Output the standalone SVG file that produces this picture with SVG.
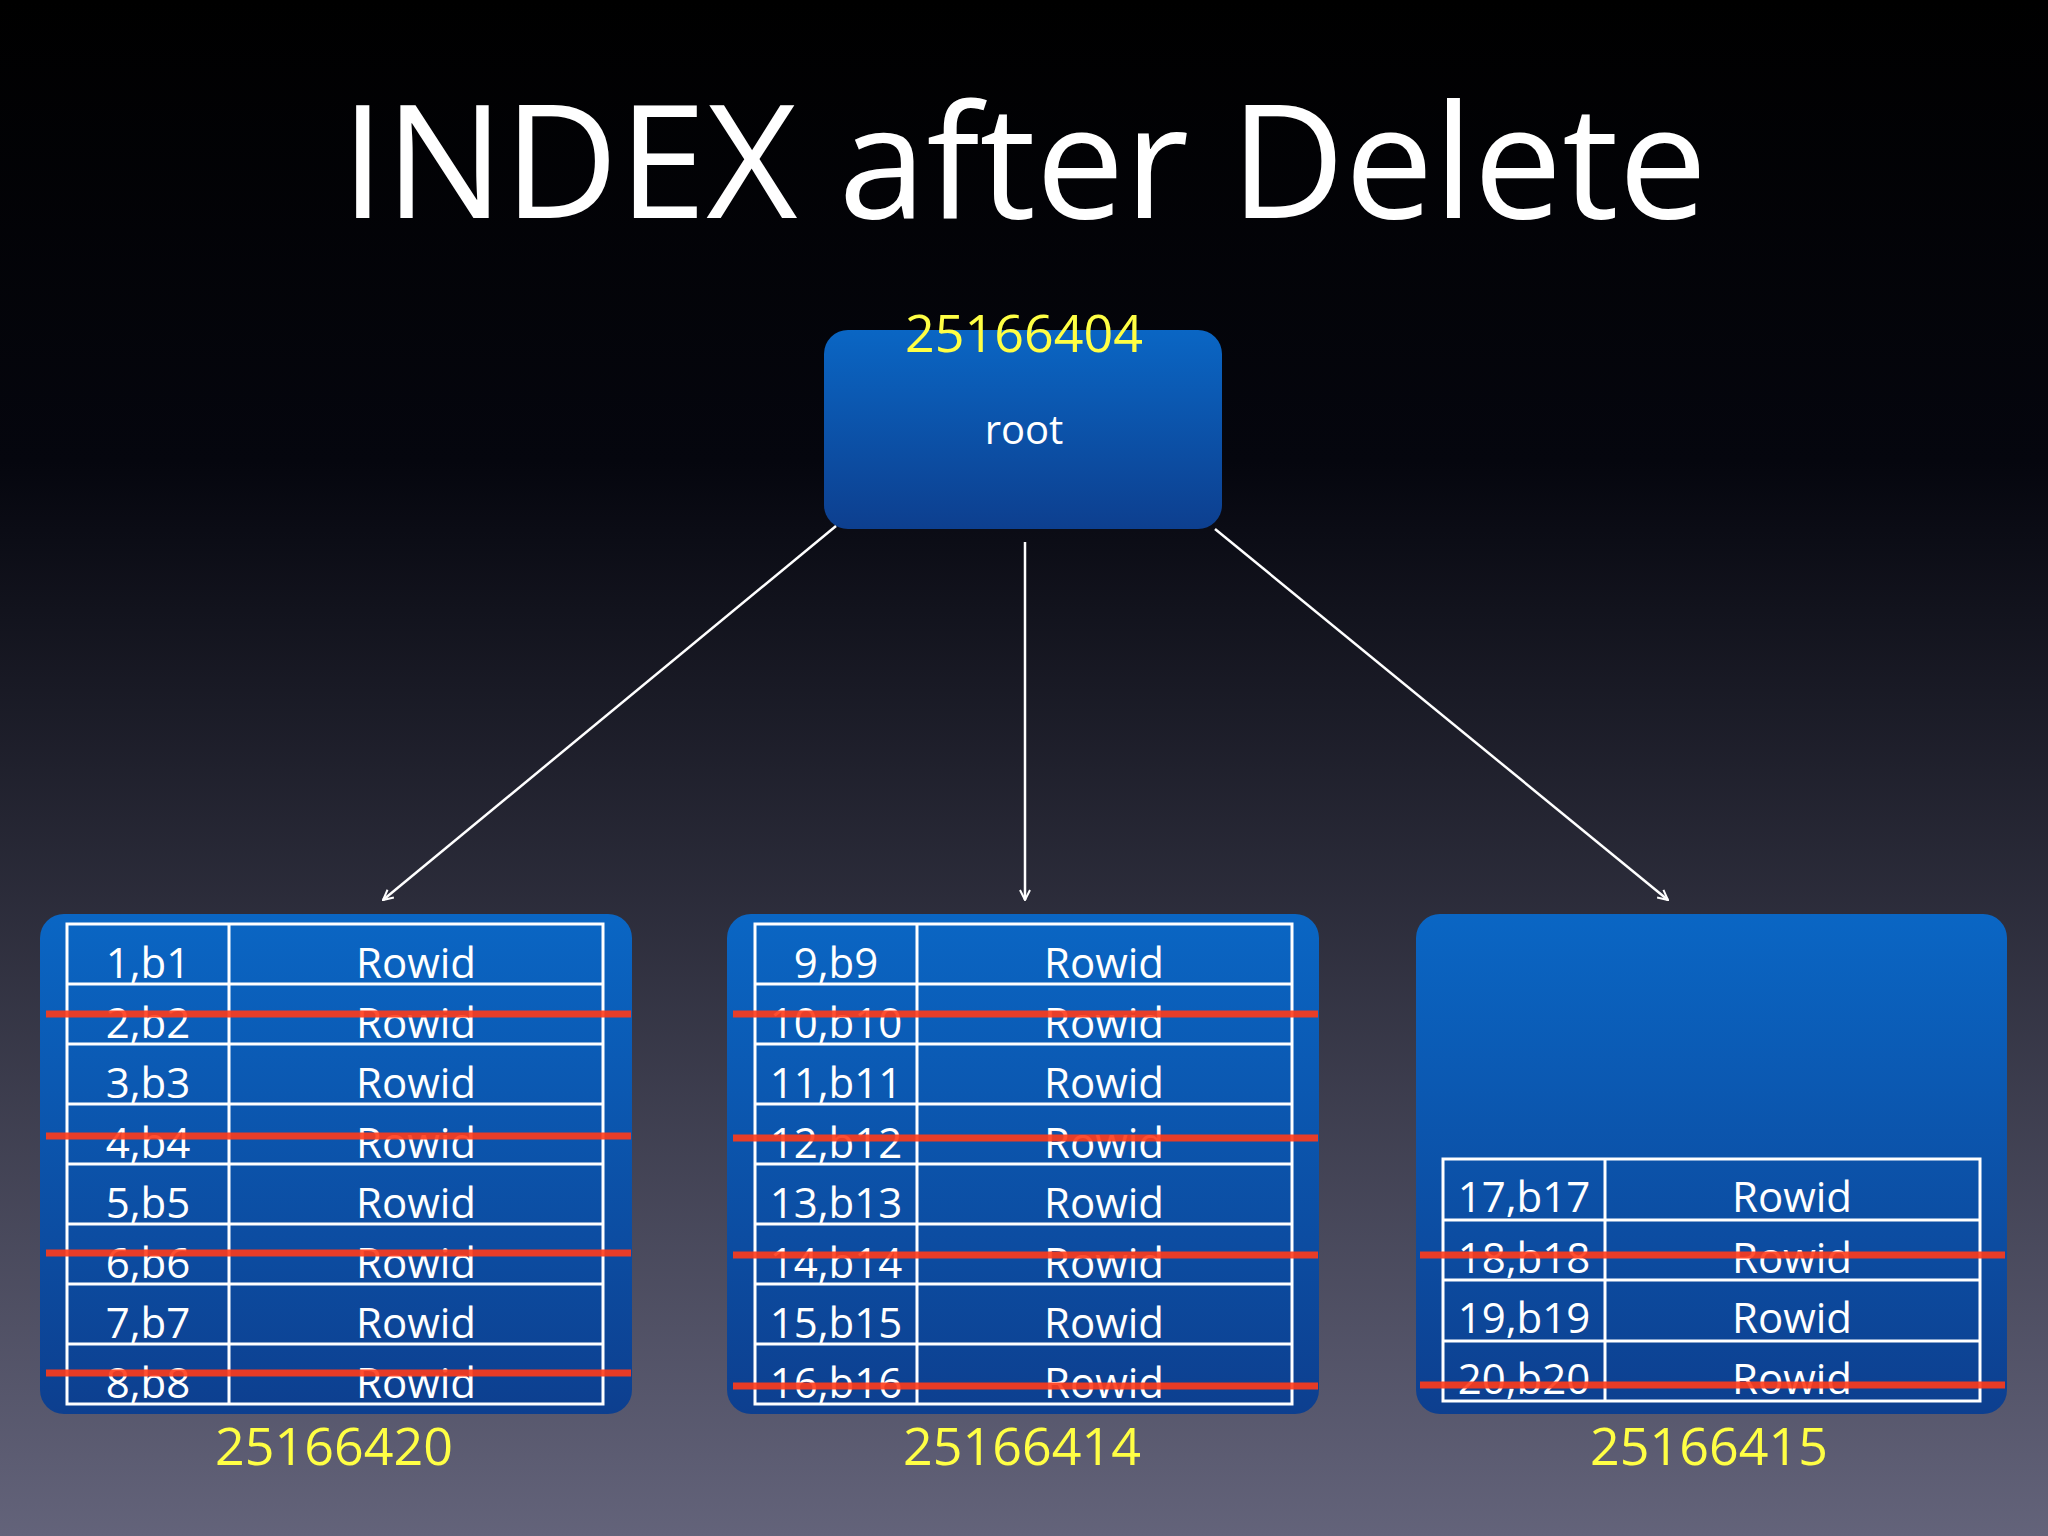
<svg xmlns="http://www.w3.org/2000/svg" width="2048" height="1536" viewBox="0 0 2048 1536">
<defs>
<linearGradient id="bg" x1="0" y1="0" x2="0" y2="1"><stop offset="0" stop-color="#000"/><stop offset="0.3" stop-color="#05060e"/><stop offset="1" stop-color="#63637a"/></linearGradient>
<linearGradient id="bx" x1="0" y1="0" x2="0" y2="1"><stop offset="0" stop-color="#0a66c4"/><stop offset="1" stop-color="#0d3f8f"/></linearGradient>
<marker id="ah" markerWidth="12" markerHeight="12" refX="11" refY="6" orient="auto" markerUnits="userSpaceOnUse"><path d="M1,1 L11,6 L1,11" fill="none" stroke="#fff" stroke-width="2"/></marker>
</defs>
<style>
.box{fill:url(#bx)}
.t{font-family:"Open Sans","Liberation Sans",sans-serif;fill:#fff;text-anchor:middle}
.y{font-family:"Open Sans","Liberation Sans",sans-serif;fill:#ffff44;text-anchor:middle;font-size:52px}
.cell{fill:none;stroke:#fff;stroke-width:3}
.c{font-size:42px}
.del{stroke:#ff3b1a;stroke-width:7;stroke-opacity:0.9}
.con{stroke:#fff;stroke-width:2.5;fill:none;marker-end:url(#ah)}
</style>
<rect width="2048" height="1536" fill="url(#bg)"/>
<text class="t" x="1024" y="218" font-size="158">INDEX after Delete</text>
<g id="root"><rect class="box" x="824" y="330" width="398" height="199" rx="24"/>
<text class="y" x="1024" y="352">25166404</text><text class="t" x="1024" y="444" font-size="40">root</text></g>
<g id="connectors">
<line class="con" x1="836" y1="526" x2="383" y2="900"/>
<line class="con" x1="1025" y1="542" x2="1025" y2="900"/>
<line class="con" x1="1215" y1="529" x2="1668" y2="900"/>
</g>
<g id="leaf1"><rect class="box" x="40" y="914" width="592" height="500" rx="24"/>
<rect class="cell" x="67" y="924" width="536" height="480"/><line class="cell" x1="229" y1="924" x2="229" y2="1404"/>
<path class="cell" d="M67 984H603M67 1044H603M67 1104H603M67 1164H603M67 1224H603M67 1284H603M67 1344H603"/>
<g class="t c"><text x="148" y="978">1,b1</text><text x="416" y="978">Rowid</text>
<text x="148" y="1038">2,b2</text><text x="416" y="1038">Rowid</text>
<text x="148" y="1098">3,b3</text><text x="416" y="1098">Rowid</text>
<text x="148" y="1158">4,b4</text><text x="416" y="1158">Rowid</text>
<text x="148" y="1218">5,b5</text><text x="416" y="1218">Rowid</text>
<text x="148" y="1278">6,b6</text><text x="416" y="1278">Rowid</text>
<text x="148" y="1338">7,b7</text><text x="416" y="1338">Rowid</text>
<text x="148" y="1398">8,b8</text><text x="416" y="1398">Rowid</text></g>
<path class="del" d="M46 1014H631M46 1136H631M46 1253H631M46 1373H631"/>
<text class="y" x="334" y="1465">25166420</text></g>
<g id="leaf2"><rect class="box" x="727" y="914" width="592" height="500" rx="24"/>
<rect class="cell" x="755" y="924" width="537" height="480"/><line class="cell" x1="917" y1="924" x2="917" y2="1404"/>
<path class="cell" d="M755 984H1292M755 1044H1292M755 1104H1292M755 1164H1292M755 1224H1292M755 1284H1292M755 1344H1292"/>
<g class="t c"><text x="836" y="978">9,b9</text><text x="1104" y="978">Rowid</text>
<text x="836" y="1038">10,b10</text><text x="1104" y="1038">Rowid</text>
<text x="836" y="1098">11,b11</text><text x="1104" y="1098">Rowid</text>
<text x="836" y="1158">12,b12</text><text x="1104" y="1158">Rowid</text>
<text x="836" y="1218">13,b13</text><text x="1104" y="1218">Rowid</text>
<text x="836" y="1278">14,b14</text><text x="1104" y="1278">Rowid</text>
<text x="836" y="1338">15,b15</text><text x="1104" y="1338">Rowid</text>
<text x="836" y="1398">16,b16</text><text x="1104" y="1398">Rowid</text></g>
<path class="del" d="M733 1014H1318M733 1138H1318M733 1255H1318M733 1386H1318"/>
<text class="y" x="1022" y="1465">25166414</text></g>
<g id="leaf3"><rect class="box" x="1416" y="914" width="591" height="500" rx="24"/>
<rect class="cell" x="1443" y="1159" width="537" height="242"/><line class="cell" x1="1605" y1="1159" x2="1605" y2="1401"/>
<path class="cell" d="M1443 1220H1980M1443 1280H1980M1443 1341H1980"/>
<g class="t c"><text x="1524" y="1212">17,b17</text><text x="1792" y="1212">Rowid</text>
<text x="1524" y="1273">18,b18</text><text x="1792" y="1273">Rowid</text>
<text x="1524" y="1333">19,b19</text><text x="1792" y="1333">Rowid</text>
<text x="1524" y="1394">20,b20</text><text x="1792" y="1394">Rowid</text></g>
<path class="del" d="M1420 1255H2005M1420 1385H2005"/>
<text class="y" x="1709" y="1465">25166415</text></g>
</svg>
